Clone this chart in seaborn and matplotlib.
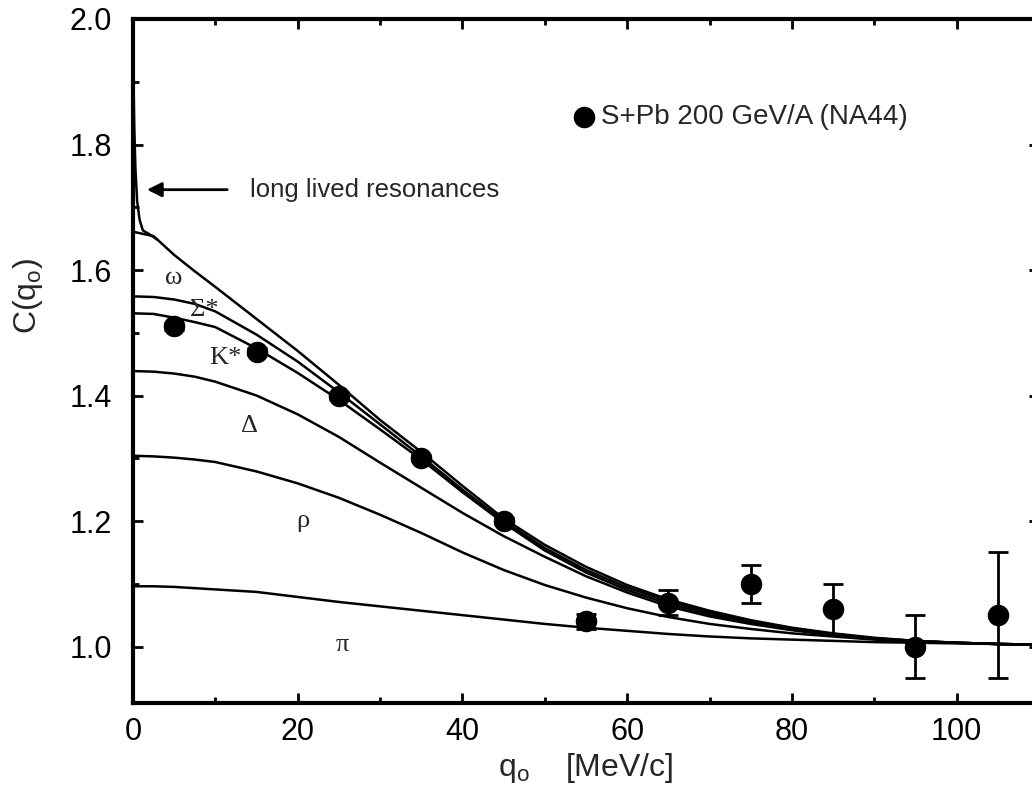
import numpy as np
import pandas as pd
import matplotlib
matplotlib.use("Agg")
import matplotlib.pyplot as plt
from matplotlib.ticker import MultipleLocator, FormatStrFormatter
import seaborn as sns

# q grid of the model curves [MeV/c]
q = [0, 2.5, 5, 7.5, 10, 15, 20, 25, 30, 35, 40, 45, 50, 55,
     60, 65, 70, 75, 80, 85, 90, 95, 100, 105, 110]

# cumulative contributions
c_pi = [1.096, 1.096, 1.095, 1.093, 1.091, 1.087, 1.079, 1.071, 1.064, 1.057, 1.050, 1.043, 1.036, 1.030,
        1.025, 1.020, 1.016, 1.013, 1.011, 1.009, 1.007, 1.006, 1.005, 1.004, 1.003]
c_rho = [1.304, 1.303, 1.301, 1.298, 1.294, 1.279, 1.260, 1.237, 1.210, 1.181, 1.150, 1.122, 1.098, 1.078,
         1.061, 1.047, 1.036, 1.028, 1.021, 1.016, 1.011, 1.008, 1.006, 1.004, 1.003]
c_delta = [1.439, 1.438, 1.435, 1.430, 1.422, 1.400, 1.370, 1.334, 1.293, 1.253, 1.213, 1.176, 1.143, 1.112,
           1.086, 1.064, 1.048, 1.036, 1.026, 1.018, 1.012, 1.008, 1.006, 1.004, 1.003]
c_kstar = [1.531, 1.530, 1.524, 1.517, 1.509, 1.475, 1.436, 1.393, 1.346, 1.298, 1.246, 1.197, 1.153, 1.118,
           1.090, 1.068, 1.051, 1.038, 1.027, 1.019, 1.013, 1.009, 1.006, 1.004, 1.003]
c_sigma = [1.558, 1.557, 1.553, 1.546, 1.534, 1.497, 1.454, 1.405, 1.354, 1.303, 1.250, 1.200, 1.157, 1.122,
           1.094, 1.072, 1.054, 1.040, 1.029, 1.020, 1.013, 1.009, 1.006, 1.004, 1.003]
c_omega = [1.661, 1.654, 1.624, 1.598, 1.573, 1.522, 1.471, 1.417, 1.361, 1.310, 1.256, 1.204, 1.162, 1.127,
           1.098, 1.075, 1.057, 1.042, 1.030, 1.021, 1.014, 1.009, 1.006, 1.004, 1.003]

# spike from long lived resonances near q = 0
q_long = [0.0, 0.15, 0.3, 0.5, 0.8, 1.2, 2.0, 3.0]
c_long = [1.95, 1.83, 1.76, 1.71, 1.68, 1.663, 1.657, 1.648]

# NA44 data
q_data = [5, 15, 25, 35, 45, 55, 65, 75, 85, 95, 105]
c_data = [1.51, 1.47, 1.40, 1.30, 1.20, 1.04, 1.07, 1.10, 1.06, 1.00, 1.05]
err_data = [0.005, 0.005, 0.005, 0.005, 0.005, 0.012, 0.02, 0.03, 0.04, 0.05, 0.10]

curve_names = ["π", "ρ", "Δ", "K*", "Σ*", "ω"]
curves = [c_pi, c_rho, c_delta, c_kstar, c_sigma, c_omega]

df = pd.concat([pd.DataFrame({"q": q, "C": c, "curve": n}) for n, c in zip(curve_names, curves)],
               ignore_index=True)
df_long = pd.DataFrame({"q": q_long, "C": c_long})
df_data = pd.DataFrame({"q": q_data, "C": c_data, "err": err_data})

sns.set_theme(style="ticks")
plt.rcParams["font.family"] = ["Liberation Sans", "DejaVu Sans"]

fig = plt.figure(figsize=(10.32, 7.86), dpi=100)
ax = fig.add_axes([133 / 1032, 83 / 786, 906 / 1032, 684 / 786])

sns.lineplot(data=df, x="q", y="C", units="curve", estimator=None, color="black",
             linewidth=1.8, sort=True, ax=ax)
sns.lineplot(data=df_long, x="q", y="C", estimator=None, color="black", linewidth=1.8, ax=ax)

ax.errorbar(df_data["q"], df_data["C"], yerr=df_data["err"], fmt="none", ecolor="black",
            elinewidth=2, capsize=7.5, capthick=2, zorder=3)
sns.scatterplot(data=df_data, x="q", y="C", color="black", s=240, linewidth=0,
                label="S+Pb 200 GeV/A (NA44)", zorder=4, ax=ax)

# greek labels on each band
label_q = [5.0, 8.7, 11.2, 14.2, 20.6, 25.4]
label_c = [1.588, 1.536, 1.459, 1.352, 1.200, 1.003]
for name, lq, lc in zip(["ω", "Σ*", "K*", "Δ", "ρ", "π"], label_q, label_c):
    ax.text(lq, lc, name, fontsize=19, ha="center", va="center",
            family=["Liberation Serif", "DejaVu Serif"])

ax.annotate("long lived resonances", xy=(1.7, 1.728), xytext=(14.2, 1.728),
            fontsize=18.5, va="center", ha="left",
            arrowprops=dict(arrowstyle="-|>", color="black", lw=2, mutation_scale=22,
                            shrinkA=14, shrinkB=0))

ax.legend(loc="center left", bbox_to_anchor=(0.487, 0.857), frameon=False, fontsize=20,
          handlelength=0.7, handletextpad=0.25, borderpad=0, borderaxespad=0)

ax.set_xlim(0, 110)
ax.set_ylim(0.91, 2.0)
ax.xaxis.set_major_locator(MultipleLocator(20))
ax.xaxis.set_minor_locator(MultipleLocator(10))
ax.yaxis.set_major_locator(MultipleLocator(0.2))
ax.yaxis.set_minor_locator(MultipleLocator(0.1))
ax.yaxis.set_major_formatter(FormatStrFormatter("%.1f"))

ax.tick_params(which="both", direction="in", top=True, right=True, width=2, labelsize=22,
               color="black", labelcolor="black")
ax.tick_params(which="major", length=7)
ax.tick_params(which="minor", length=4)
ax.tick_params(axis="y", which="minor", right=False)
ax.tick_params(axis="x", pad=10)
ax.tick_params(axis="y", pad=15)

for side in ["left", "bottom", "top", "right"]:
    ax.spines[side].set_linewidth(3)
    ax.spines[side].set_color("black")

ax.set_xlabel(r"q$_\mathregular{o}$    [MeV/c]", fontsize=23, labelpad=3)
ax.set_ylabel(r"C(q$_\mathregular{o}$)", fontsize=23)
ax.yaxis.set_label_coords(-0.097, 0.595)

fig.savefig("out.png", dpi=100)
